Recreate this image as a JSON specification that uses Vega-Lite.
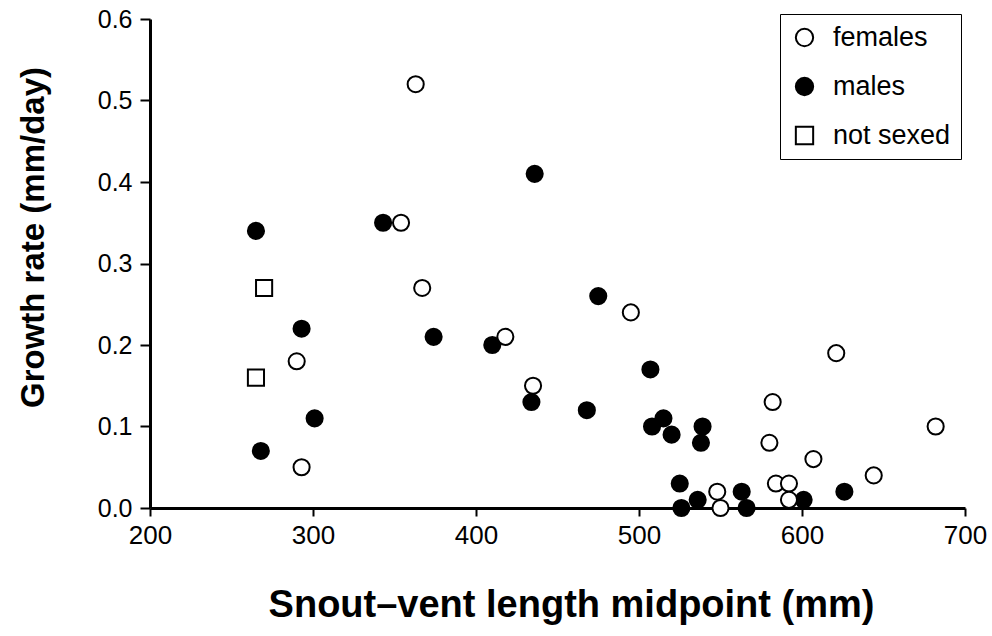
{
  "$schema": "https://vega.github.io/schema/vega-lite/v6.json",
  "width": 815,
  "height": 489,
  "autosize": {"type": "none"},
  "padding": {"left": 150, "top": 19, "right": 27, "bottom": 128},
  "background": "white",
  "config": {"view": {"stroke": null}, "font": "Liberation Sans"},
  "data": {"values": [
    {"svl": 265, "rate": 0.34, "sex": "males"},
    {"svl": 343, "rate": 0.35, "sex": "males"},
    {"svl": 436, "rate": 0.41, "sex": "males"},
    {"svl": 293, "rate": 0.22, "sex": "males"},
    {"svl": 374, "rate": 0.21, "sex": "males"},
    {"svl": 410, "rate": 0.20, "sex": "males"},
    {"svl": 301, "rate": 0.11, "sex": "males"},
    {"svl": 268, "rate": 0.07, "sex": "males"},
    {"svl": 434, "rate": 0.13, "sex": "males"},
    {"svl": 475, "rate": 0.26, "sex": "males"},
    {"svl": 507, "rate": 0.17, "sex": "males"},
    {"svl": 468, "rate": 0.12, "sex": "males"},
    {"svl": 515, "rate": 0.11, "sex": "males"},
    {"svl": 508, "rate": 0.10, "sex": "males"},
    {"svl": 520, "rate": 0.09, "sex": "males"},
    {"svl": 539, "rate": 0.10, "sex": "males"},
    {"svl": 538, "rate": 0.08, "sex": "males"},
    {"svl": 626, "rate": 0.02, "sex": "males"},
    {"svl": 525, "rate": 0.03, "sex": "males"},
    {"svl": 526, "rate": 0.00, "sex": "males"},
    {"svl": 536, "rate": 0.01, "sex": "males"},
    {"svl": 563, "rate": 0.02, "sex": "males"},
    {"svl": 566, "rate": 0.00, "sex": "males"},
    {"svl": 601, "rate": 0.01, "sex": "males"},
    {"svl": 363, "rate": 0.52, "sex": "females"},
    {"svl": 354, "rate": 0.35, "sex": "females"},
    {"svl": 367, "rate": 0.27, "sex": "females"},
    {"svl": 290, "rate": 0.18, "sex": "females"},
    {"svl": 293, "rate": 0.05, "sex": "females"},
    {"svl": 418, "rate": 0.21, "sex": "females"},
    {"svl": 435, "rate": 0.15, "sex": "females"},
    {"svl": 495, "rate": 0.24, "sex": "females"},
    {"svl": 621, "rate": 0.19, "sex": "females"},
    {"svl": 582, "rate": 0.13, "sex": "females"},
    {"svl": 580, "rate": 0.08, "sex": "females"},
    {"svl": 682, "rate": 0.10, "sex": "females"},
    {"svl": 607, "rate": 0.06, "sex": "females"},
    {"svl": 644, "rate": 0.04, "sex": "females"},
    {"svl": 548, "rate": 0.02, "sex": "females"},
    {"svl": 550, "rate": 0.00, "sex": "females"},
    {"svl": 584, "rate": 0.03, "sex": "females"},
    {"svl": 592, "rate": 0.03, "sex": "females"},
    {"svl": 592, "rate": 0.01, "sex": "females"},
    {"svl": 270, "rate": 0.27, "sex": "not sexed"},
    {"svl": 265, "rate": 0.16, "sex": "not sexed"}
  ]},
  "mark": {"type": "point", "filled": true, "strokeWidth": 2, "size": 260, "opacity": 1, "clip": false},
  "encoding": {
    "x": {
      "field": "svl", "type": "quantitative",
      "scale": {"domain": [200, 700], "nice": false, "zero": false},
      "axis": {
        "values": [200, 300, 400, 500, 600, 700],
        "grid": false,
        "domainColor": "black", "domainWidth": 3,
        "tickColor": "black", "tickWidth": 2, "tickSize": 8,
        "labelFontSize": 26, "labelColor": "black", "labelPadding": 6,
        "labelFlush": false, "labelOverlap": false, "labelBound": false,
        "title": "Snout–vent length midpoint (mm)",
        "titleFontSize": 38, "titleFontWeight": "bold", "titleColor": "black",
        "titleX": 421, "titleY": 97, "titleBaseline": "middle", "titleAlign": "center"
      }
    },
    "y": {
      "field": "rate", "type": "quantitative",
      "scale": {"domain": [0, 0.6], "nice": false},
      "axis": {
        "values": [0, 0.1, 0.2, 0.3, 0.4, 0.5, 0.6],
        "format": ".1f",
        "grid": false,
        "domainColor": "black", "domainWidth": 3,
        "tickColor": "black", "tickWidth": 2, "tickSize": 10,
        "labelFontSize": 25, "labelColor": "black", "labelPadding": 8,
        "labelFlush": false, "labelOverlap": false, "labelBound": false,
        "title": "Growth rate (mm/day)",
        "titleFontSize": 33, "titleFontWeight": "bold", "titleColor": "black",
        "titleAngle": -90,
        "titleX": -117, "titleY": 218, "titleBaseline": "middle", "titleAlign": "center"
      }
    },
    "shape": {
      "field": "sex", "type": "nominal",
      "scale": {"domain": ["females", "males", "not sexed"], "range": ["circle", "circle", "square"]},
      "legend": {
        "title": null, "orient": "none", "legendX": 630, "legendY": -5,
        "strokeColor": "black", "fillColor": "white",
        "padding": 10, "rowPadding": 21,
        "labelFontSize": 27, "labelColor": "black", "labelOffset": 15,
        "symbolSize": 300, "symbolStrokeWidth": 2, "symbolOffset": 1,
        "encode": {"legend": {"update": {"strokeWidth": {"value": 2}}}}
      }
    },
    "fill": {
      "field": "sex", "type": "nominal",
      "scale": {"domain": ["females", "males", "not sexed"], "range": ["white", "black", "white"]},
      "legend": {
        "title": null, "orient": "none", "legendX": 630, "legendY": -5,
        "strokeColor": "black", "fillColor": "white",
        "padding": 10, "rowPadding": 21,
        "labelFontSize": 27, "labelColor": "black", "labelOffset": 15,
        "symbolSize": 300, "symbolStrokeWidth": 2, "symbolOffset": 1,
        "encode": {"legend": {"update": {"strokeWidth": {"value": 2}}}}
      }
    },
    "stroke": {
      "field": "sex", "type": "nominal",
      "scale": {"domain": ["females", "males", "not sexed"], "range": ["black", "black", "black"]},
      "legend": {
        "title": null, "orient": "none", "legendX": 630, "legendY": -5,
        "strokeColor": "black", "fillColor": "white",
        "padding": 10, "rowPadding": 21,
        "labelFontSize": 27, "labelColor": "black", "labelOffset": 15,
        "symbolSize": 300, "symbolStrokeWidth": 2, "symbolOffset": 1,
        "encode": {"legend": {"update": {"strokeWidth": {"value": 2}}}}
      }
    }
  }
}
